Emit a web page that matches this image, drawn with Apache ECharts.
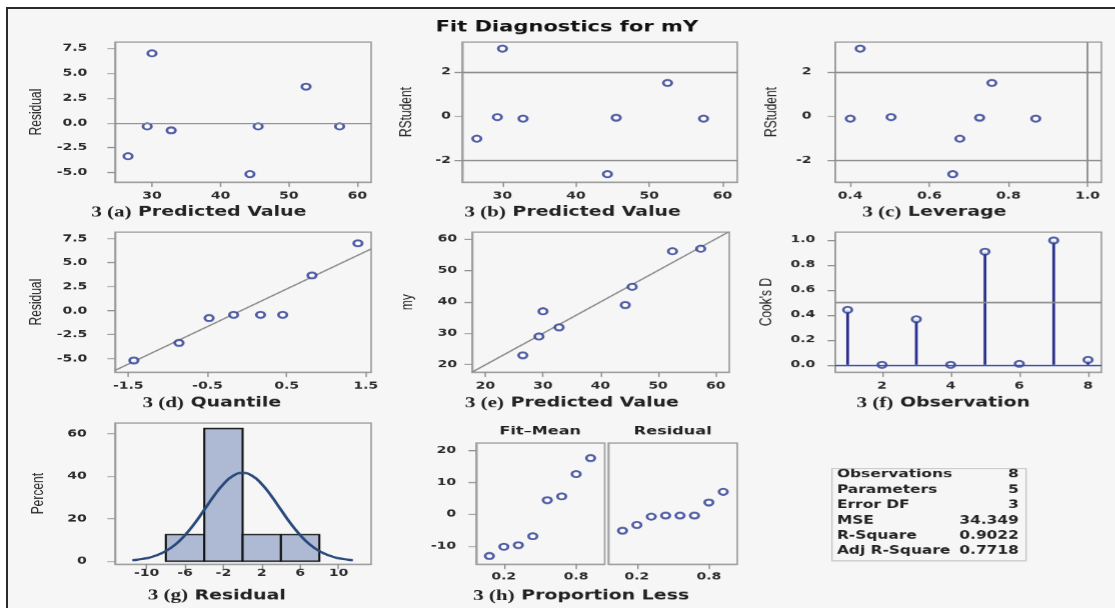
<!DOCTYPE html>
<html>
<head>
<meta charset="utf-8">
<script src="https://cdn.jsdelivr.net/npm/echarts@6/dist/echarts.min.js"></script>
<style>
  html, body { margin: 0; padding: 0; background: #fff; overflow: hidden; width: 1115px; height: 608px; }
  #frame { position: absolute; left: 6px; top: 7px; width: 1200px; height: 700px;
           border-left: 2px solid #2a2a2a; border-top: 2px solid #2a2a2a; background: #f6f6f6; }
  #chart { position: absolute; left: 0; top: 0; width: 796.43px; height: 608px;
           transform: scaleX(1.4); transform-origin: 0 0; }
</style>
</head>
<body>
<div id="frame"></div>
<div id="chart"></div>
<script>
// ---- data: eight observations of the regression of my ----
const predicted = [26.5, 29.3, 30.0, 32.8, 44.3, 45.5, 52.5, 57.4];
const residual  = [-3.35, -0.35, 7.0, -0.75, -5.15, -0.35, 3.65, -0.35];
const rstudent  = [-1.03, -0.05, 3.06, -0.12, -2.64, -0.08, 1.50, -0.12];
const leverage  = [0.677, 0.503, 0.425, 0.400, 0.659, 0.727, 0.758, 0.869];
const observed  = [23.0, 29.0, 37.0, 31.9, 39.0, 44.8, 56.1, 56.9];
const obsIndex  = [1, 2, 3, 4, 5, 6, 7, 8];
const cooksD    = [0.44, 0.0, 0.365, 0.0, 0.905, 0.008, 0.995, 0.04];
const quantile  = [-1.43, -0.86, -0.48, -0.17, 0.17, 0.45, 0.82, 1.40];
const sortedResidual = [-5.18, -3.35, -0.76, -0.42, -0.42, -0.42, 3.68, 7.03];
const propLess  = [0.08, 0.2, 0.32, 0.44, 0.56, 0.68, 0.8, 0.92];
const fitMean   = [-13.1, -10.2, -9.7, -6.9, 4.4, 5.6, 12.6, 17.6];
const qqLineEnds = [[-1.67, -6.22], [1.57, 6.45]];
const diagEnds   = [[17.7, 17.7], [62.3, 62.3]];
const binLow     = [-8, -4, 0, 4];
const binHigh    = [-4, 0, 4, 8];
const binPercent = [12.5, 62.5, 12.5, 12.5];
const curveX = [-11.5, -11, -10, -9, -8, -7, -6, -5, -4, -3, -2, -1, 0, 1, 2, 3, 4, 5, 6, 7, 8, 9, 10, 11, 11.5];
const curveY = [0.5, 0.7, 1.4, 2.7, 4.8, 7.9, 12.3, 17.8, 24.2, 30.7, 36.3, 40.2, 41.6, 40.2, 36.3, 30.7, 24.2, 17.8, 12.3, 7.9, 4.8, 2.7, 1.4, 0.7, 0.5];
const statNames  = ['Observations', 'Parameters', 'Error DF', 'MSE', 'R-Square', 'Adj R-Square'];
const statValues = ['8', '5', '3', '34.349', '0.9022', '0.7718'];

// ---- panel captions under each plot ----
const captionTags  = ['3 (a)', '3 (b)', '3 (c)', '3 (d)', '3 (e)', '3 (f)', '3 (g)', '3 (h)'];
const captionTexts = ['Predicted Value', 'Predicted Value', 'Leverage', 'Quantile',
                      'Predicted Value', 'Observation', 'Residual', 'Proportion Less'];

// ---- tick values ----
const ticksPred  = [30, 40, 50, 60];
const ticksResid = [-5, -2.5, 0, 2.5, 5, 7.5];
const ticksRStud = [-2, 0, 2];
const ticksLev   = [0.4, 0.6, 0.8, 1.0];
const ticksQuant = [-1.5, -0.5, 0.5, 1.5];
const ticksFit   = [20, 30, 40, 50, 60];
const ticksObs   = [2, 4, 6, 8];
const ticksCook  = [0, 0.2, 0.4, 0.6, 0.8, 1.0];
const ticksHistX = [-10, -6, -2, 2, 6, 10];
const ticksPct   = [0, 20, 40, 60];
const ticksProp  = [0.2, 0.8];
const ticksPanelH = [-10, 0, 10, 20];

// ---- styling ----
const S = 1.4;                 // the drawing is widened horizontally by this factor
const FRAME = '#9f9f9f';
const TICK = '#8e8e8e';
const REF = '#8a8a8a';
const MARK = '#26368f';
const LABEL = '#2b2b2b';
const SANS = 'DejaVu Sans';

const zip = (a, b) => a.map((v, i) => [v, b[i]]);
const f1 = v => v.toFixed(1);
const f0 = v => String(v);

function cell(l, r, t, b) {
  return { left: l / S, width: (r - l) / S, top: t, height: b - t, show: true,
           borderColor: FRAME, borderWidth: 1.2, backgroundColor: 'transparent',
           containLabel: false, outerBoundsMode: 'none' };
}

function xAx(gi, min, max, ticks, fmt, margin) {
  return {
    type: 'value', gridIndex: gi, min: min, max: max,
    splitLine: { show: false },
    axisLine: { show: true, onZero: false, lineStyle: { color: FRAME, width: 1.2 } },
    axisTick: { show: true, customValues: ticks, length: 5, lineStyle: { color: TICK, width: 1 } },
    axisLabel: { customValues: ticks, formatter: fmt, margin: margin, color: LABEL,
                 fontFamily: SANS, fontWeight: 'bold', fontSize: 10 }
  };
}

function yAx(gi, min, max, ticks, fmt, name, gap, margin, hideLabels) {
  return {
    type: 'value', gridIndex: gi, min: min, max: max,
    splitLine: { show: false },
    axisLine: { show: true, onZero: false, lineStyle: { color: FRAME, width: 1.2 } },
    axisTick: { show: !hideLabels, customValues: ticks, length: 5.5, lineStyle: { color: TICK, width: 1 } },
    axisLabel: { show: !hideLabels, customValues: ticks, formatter: fmt, margin: margin, color: LABEL,
                 fontFamily: SANS, fontWeight: 'bold', fontSize: 10 },
    name: name, nameLocation: 'middle', nameGap: gap,
    nameTextStyle: { fontFamily: 'Liberation Sans', fontSize: 12, color: '#222' }
  };
}

function dots(ax, data) {
  return { type: 'scatter', xAxisIndex: ax, yAxisIndex: ax, data: data, silent: true, z: 4,
           symbol: 'emptyCircle', symbolSize: 6,
           itemStyle: { color: MARK, borderColor: MARK, borderWidth: 2 } };
}

function refLines(items) {
  return { silent: true, symbol: 'none', label: { show: false }, animation: false,
           lineStyle: { color: REF, width: 1.3, type: 'solid' }, data: items };
}

const grids = [
  cell(115, 371, 42, 182),      // (a)
  cell(462, 737, 42, 182),      // (b)
  cell(835, 1101, 42, 182),     // (c)
  cell(115, 371, 232, 372),     // (d)
  cell(472, 729, 232, 372),     // (e)
  cell(835, 1101, 232, 372),    // (f)
  cell(115, 371, 423, 564),     // (g)
  cell(476, 604.5, 443, 564),   // (h) left
  cell(608.5, 737, 443, 564)    // (h) right
];

const xAxes = [
  xAx(0, 24.6, 62, ticksPred, f0, 9),
  xAx(1, 24.5, 62, ticksPred, f0, 9),
  xAx(2, 0.362, 1.035, ticksLev, f1, 9),
  xAx(3, -1.668, 1.567, ticksQuant, f1, 9),
  xAx(4, 17.7, 62.36, ticksFit, f0, 9),
  xAx(5, 0.64, 8.39, ticksObs, f0, 9),
  xAx(6, -13.3, 13.4, ticksHistX, f0, 4),
  xAx(7, -0.03, 1.037, ticksProp, f1, 8),
  xAx(8, -0.035, 1.037, ticksProp, f1, 8)
];

const yAxes = [
  yAx(0, -5.95, 8.14, ticksResid, f1, 'Residual', 50, 19.8),
  yAx(1, -3.0, 3.36, ticksRStud, f0, 'RStudent', 34, 8),
  yAx(2, -3.0, 3.36, ticksRStud, f0, 'RStudent', 39.5, 17),
  yAx(3, -6.39, 8.2, ticksResid, f1, 'Residual', 50, 19.8),
  yAx(4, 17.67, 62.2, ticksFit, f0, 'my', 40.5, 10.7),
  yAx(5, -0.058, 1.062, ticksCook, f1, "Cook's D", 43, 14.3),
  yAx(6, -1.4, 65.05, ticksPct, f0, 'Percent', 49, 20.2),
  yAx(7, -15.66, 22.3, ticksPanelH, f0, '', 0, 14.3),
  yAx(8, -15.66, 22.3, ticksPanelH, f0, '', 0, 14.3, true)
];

const series = [
  // (a) residual by predicted value
  Object.assign(dots(0, zip(predicted, residual)), { markLine: refLines([{ yAxis: 0 }]) }),
  // (b) RStudent by predicted value
  Object.assign(dots(1, zip(predicted, rstudent)), { markLine: refLines([{ yAxis: 2 }, { yAxis: -2 }]) }),
  // (c) RStudent by leverage
  Object.assign(dots(2, zip(leverage, rstudent)), { markLine: refLines([{ yAxis: 2 }, { yAxis: -2 }, { xAxis: 1.0 }]) }),
  // (d) normal quantile plot
  { type: 'line', xAxisIndex: 3, yAxisIndex: 3, data: qqLineEnds, symbol: 'none', silent: true, z: 2,
    lineStyle: { color: REF, width: 1.3 } },
  dots(3, zip(quantile, sortedResidual)),
  // (e) observed by predicted
  { type: 'line', xAxisIndex: 4, yAxisIndex: 4, data: diagEnds, symbol: 'none', silent: true, z: 2,
    lineStyle: { color: REF, width: 1.3 } },
  dots(4, zip(predicted, observed)),
  // (f) Cook's D needles
  { type: 'bar', xAxisIndex: 5, yAxisIndex: 5, data: zip(obsIndex, cooksD), barWidth: 2, silent: true, z: 3,
    itemStyle: { color: '#2b2f8c' },
    markLine: refLines([{ yAxis: 0.5 }, { yAxis: 0, lineStyle: { color: '#3a4cab', width: 1.3 } }]) },
  dots(5, zip(obsIndex, cooksD)),
  // (g) residual histogram with normal density
  { type: 'custom', xAxisIndex: 6, yAxisIndex: 6, silent: true, z: 2,
    data: binLow.map((lo, i) => [lo, binHigh[i], binPercent[i]]),
    encode: { x: [0, 1], y: 2 },
    renderItem: function (params, api) {
      const a = api.coord([api.value(0), api.value(2)]);
      const b = api.coord([api.value(1), 0]);
      return { type: 'rect', shape: { x: a[0], y: a[1], width: b[0] - a[0], height: b[1] - a[1] },
               style: { fill: '#aebad4', stroke: '#151515', lineWidth: 1.5 } };
    } },
  { type: 'line', xAxisIndex: 6, yAxisIndex: 6, data: zip(curveX, curveY), smooth: true, symbol: 'none',
    silent: true, z: 4, lineStyle: { color: '#2a4a7c', width: 2.2 } },
  // (h) residual-fit spread plot
  dots(7, zip(propLess, fitMean)),
  dots(8, zip(propLess, sortedResidual))
];

// caption centres (x) and rows (y)
const captionX = [198.7, 572.5, 934, 211.7, 571.7, 943, 216.7, 581];
const captionY = [212.5, 212.5, 212.5, 403, 403, 403, 595.5, 596];

const graphicEls = [
  { type: 'rect', shape: { x: 831.7 / S, y: 468.3, width: (1025.7 - 831.7) / S, height: 92.4 },
    style: { fill: 'transparent', stroke: '#c6c6c6', lineWidth: 1 }, silent: true }
];
statNames.forEach((n, i) => {
  const y = 474.5 + i * 15.3;
  graphicEls.push({ type: 'text', x: 836.7 / S, y: y, silent: true,
    style: { text: n, fontFamily: SANS, fontWeight: 'bold', fontSize: 11, fill: '#222',
             textAlign: 'left', textVerticalAlign: 'middle' } });
  graphicEls.push({ type: 'text', x: 1018.5 / S, y: y, silent: true,
    style: { text: statValues[i], fontFamily: SANS, fontWeight: 'bold', fontSize: 11, fill: '#222',
             textAlign: 'right', textVerticalAlign: 'middle' } });
});
captionTags.forEach((tag, i) => {
  graphicEls.push({ type: 'text', x: captionX[i] / S, y: captionY[i], silent: true,
    style: { text: '{p|' + tag + '}{q| ' + captionTexts[i] + '}',
             textAlign: 'center', textVerticalAlign: 'middle',
             rich: { p: { fontFamily: 'Liberation Serif', fontWeight: 'bold', fontSize: 15, fill: '#222' },
                     q: { fontFamily: SANS, fontWeight: 'bold', fontSize: 13.5, fill: '#222' } } } });
});

const chart = echarts.init(document.getElementById('chart'), null, { renderer: 'canvas', devicePixelRatio: 1.4 });
chart.setOption({
  animation: false,
  backgroundColor: 'transparent',
  title: [
    { text: 'Fit Diagnostics for mY', left: 566.7 / S - 5, top: 15, textAlign: 'center',
      textStyle: { fontFamily: SANS, fontWeight: 'bold', fontSize: 15, color: '#111' } },
    { text: 'Fit\u2013Mean', left: 540 / S - 5, top: 420, textAlign: 'center',
      textStyle: { fontFamily: SANS, fontWeight: 'bold', fontSize: 11.5, color: '#222' } },
    { text: 'Residual', left: 672.5 / S - 5, top: 420, textAlign: 'center',
      textStyle: { fontFamily: SANS, fontWeight: 'bold', fontSize: 11.5, color: '#222' } }
  ],
  grid: grids,
  xAxis: xAxes,
  yAxis: yAxes,
  series: series,
  graphic: { elements: graphicEls }
});
</script>
</body>
</html>
